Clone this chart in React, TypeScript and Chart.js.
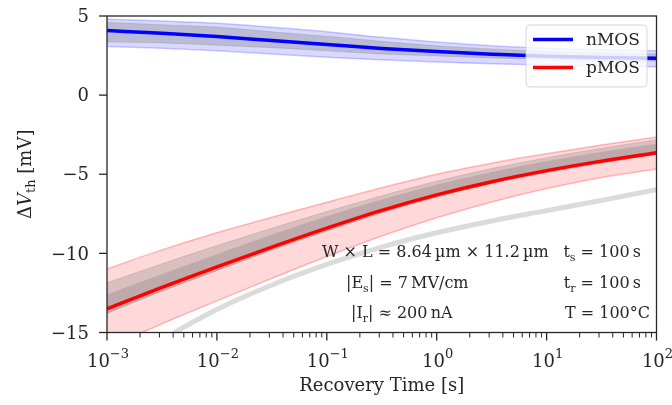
import React, { useEffect, useRef } from 'react';
import { Chart, registerables } from 'chart.js';

Chart.register(...registerables);

// Recovery time sample points [s]
const recoveryTime = [0.001, 0.00316, 0.01, 0.0316, 0.1, 0.316, 1, 3.16, 10, 31.6, 100];

// nMOS (mV)
const nMean = [4.08, 3.91, 3.7, 3.45, 3.2, 2.95, 2.75, 2.59, 2.45, 2.37, 2.33];
const nUpper = [4.79, 4.69, 4.54, 4.29, 4.01, 3.65, 3.35, 3.12, 2.96, 2.86, 2.81];
const nLower = [3.07, 2.96, 2.81, 2.6, 2.4, 2.23, 2.1, 1.98, 1.9, 1.84, 1.8];
const nTraceHigh = [4.6, 4.45, 4.3, 4.0, 3.72, 3.4, 3.12, 2.92, 2.76, 2.66, 2.6];
const nTraceLow = [3.35, 3.3, 3.15, 3.0, 2.8, 2.6, 2.48, 2.35, 2.26, 2.2, 2.15];

// pMOS (mV)
const pMean = [-13.5, -12.15, -10.85, -9.6, -8.4, -7.28, -6.3, -5.47, -4.77, -4.17, -3.64];
const pUpper = [-10.98, -9.78, -8.7, -7.72, -6.77, -5.85, -5.0, -4.3, -3.7, -3.15, -2.65];
const pLower = [-16.0, -14.45, -13.0, -11.58, -10.2, -8.9, -7.75, -6.75, -5.9, -5.2, -4.67];
const pTraceHigh = [-11.86, -10.66, -9.51, -8.41, -7.36, -6.36, -5.44, -4.64, -3.96, -3.36, -2.82];
const pTraceMid = [-12.6, -11.3, -10.05, -8.8, -7.65, -6.6, -5.65, -4.85, -4.17, -3.58, -3.08];
const pTraceLow = [-13.8, -12.4, -11.1, -9.8, -8.6, -7.45, -6.45, -5.6, -4.9, -4.3, -3.75];
const pOutlier = [-18, -15.5, -13.55, -12.0, -10.7, -9.6, -8.7, -7.95, -7.3, -6.65, -5.97];

// Axis ticks
const xTickExps = [-3, -2, -1, 0, 1, 2];
const xMinorMult = [2, 3, 4, 5, 6, 7, 8, 9];
const yTicks = [-15, -10, -5, 0, 5];

const FONT = "'DejaVu Serif', serif";
const FS = 18;
const LFS = 17;

type Part = [string, number?]; // 0 normal, 1 sub, 2 sup, 3 italic

function partFont(kind: number | undefined, size: number) {
  if (kind === 1 || kind === 2) return `${Math.round(size * 0.7)}px ${FONT}`;
  if (kind === 3) return `italic ${size}px ${FONT}`;
  return `${size}px ${FONT}`;
}

function drawRich(ctx: CanvasRenderingContext2D, parts: Part[], x: number, y: number, size: number, align: 'left' | 'center' | 'right' = 'left') {
  ctx.textBaseline = 'alphabetic';
  ctx.textAlign = 'left';
  let total = 0;
  for (const [t, k] of parts) {
    ctx.font = partFont(k, size);
    total += ctx.measureText(t).width;
  }
  let cx = align === 'left' ? x : align === 'center' ? x - total / 2 : x - total;
  for (const [t, k] of parts) {
    ctx.font = partFont(k, size);
    let dy = 0;
    if (k === 1) dy = size * 0.22;
    if (k === 2) dy = -size * 0.45;
    ctx.fillText(t, cx, y + dy);
    cx += ctx.measureText(t).width;
  }
}

const decoPlugin = {
  id: 'deco',
  afterDraw(chart: any) {
    const ctx: CanvasRenderingContext2D = chart.ctx;
    const { left, right, top, bottom } = chart.chartArea;
    const xs = chart.scales.x;
    const ys = chart.scales.y;
    ctx.save();
    ctx.fillStyle = '#262626';
    ctx.strokeStyle = '#262626';
    ctx.lineWidth = 1.3;
    ctx.strokeRect(left, top, right - left, bottom - top);

    // y ticks + labels
    for (const v of yTicks) {
      const py = ys.getPixelForValue(v);
      ctx.lineWidth = 1.3;
      ctx.beginPath();
      ctx.moveTo(left, py);
      ctx.lineTo(left - 8, py);
      ctx.stroke();
      ctx.font = `${FS}px ${FONT}`;
      ctx.textAlign = 'right';
      ctx.textBaseline = 'middle';
      ctx.fillText(v < 0 ? '\u2212' + Math.abs(v) : String(v), left - 18, py + 1.5);
    }

    // x ticks + labels
    for (const e of xTickExps) {
      const px = xs.getPixelForValue(Math.pow(10, e));
      ctx.lineWidth = 1.3;
      ctx.beginPath();
      ctx.moveTo(px, bottom);
      ctx.lineTo(px, bottom + 8);
      ctx.stroke();
      drawRich(ctx, [['10', 0], [e < 0 ? '\u2212' + Math.abs(e) : String(e), 2]], px + 1, bottom + 34, FS, 'center');
      if (e < 2) {
        for (const m of xMinorMult) {
          const mx = xs.getPixelForValue(m * Math.pow(10, e));
          ctx.lineWidth = 1;
          ctx.beginPath();
          ctx.moveTo(mx, bottom);
          ctx.lineTo(mx, bottom + 5);
          ctx.stroke();
        }
      }
    }

    // axis titles
    drawRich(ctx, [['Recovery Time [s]', 0]], (left + right) / 2, 391, FS, 'center');
    ctx.save();
    ctx.translate(31, (top + bottom) / 2);
    ctx.rotate(-Math.PI / 2);
    drawRich(ctx, [['\u0394', 0], ['V', 3], ['th', 1], [' [mV]', 0]], 0, 0, FS, 'center');
    ctx.restore();

    // annotation
    const AS = 16;
    drawRich(ctx, [['W \u00d7 L = 8.64\u2009\u00b5m \u00d7 11.2\u2009\u00b5m', 0]], 322, 257, AS);
    drawRich(ctx, [['|E', 0], ['s', 1], ['| = 7\u2009MV/cm', 0]], 346, 288, AS);
    drawRich(ctx, [['|I', 0], ['r', 1], ['| \u2248 200\u2009nA', 0]], 351, 318, AS);
    drawRich(ctx, [['t', 0], ['s', 1], [' = 100\u2009s', 0]], 641, 257, AS, 'right');
    drawRich(ctx, [['t', 0], ['r', 1], [' = 100\u2009s', 0]], 641, 288, AS, 'right');
    drawRich(ctx, [['T = 100\u00b0C', 0]], 650, 318, AS, 'right');

    // legend
    const lx = 526, ly = 25, lw = 121, lh = 62;
    ctx.beginPath();
    ctx.roundRect(lx, ly, lw, lh, 4);
    ctx.fillStyle = 'rgba(255,255,255,0.8)';
    ctx.fill();
    ctx.strokeStyle = 'rgba(204,204,204,0.8)';
    ctx.lineWidth = 1;
    ctx.stroke();
    const entries = [chart.data.datasets[0], chart.data.datasets[1]];
    entries.forEach((ds: any, i: number) => {
      const yy = 39.5 + i * 28;
      ctx.strokeStyle = ds.borderColor;
      ctx.lineWidth = 3.5;
      ctx.beginPath();
      ctx.moveTo(533, yy);
      ctx.lineTo(573, yy);
      ctx.stroke();
      ctx.fillStyle = '#262626';
      ctx.font = `${LFS}px ${FONT}`;
      ctx.textAlign = 'left';
      ctx.textBaseline = 'middle';
      ctx.fillText(ds.label, 586, yy + 1);
    });
    ctx.restore();
  },
};

const pts = (ys: number[]) => recoveryTime.map((x, i) => ({ x, y: ys[i] }));

const common = { pointRadius: 0, cubicInterpolationMode: 'monotone', clip: 0 };
const traceEdge = 'rgba(140,140,140,0.3)';

export default function App() {
  const ref = useRef<HTMLCanvasElement>(null);
  useEffect(() => {
    if (!ref.current) return;
    const chart = new Chart(ref.current, {
      type: 'line',
      data: {
        datasets: [
          { ...common, label: 'nMOS', data: pts(nMean), borderColor: '#0000ff', borderWidth: 3.5, fill: false, order: 0 },
          { ...common, label: 'pMOS', data: pts(pMean), borderColor: '#ff0000', borderWidth: 3.5, fill: false, order: 1 },
          { ...common, label: 'nMOS traces', data: pts(nTraceHigh), borderColor: traceEdge, borderWidth: 1, backgroundColor: 'rgba(128,128,128,0.35)', fill: '+1', order: 3 },
          { ...common, label: 'nMOS traces low', data: pts(nTraceLow), borderColor: traceEdge, borderWidth: 1, fill: false, order: 4 },
          { ...common, label: 'pMOS traces', data: pts(pTraceHigh), borderColor: traceEdge, borderWidth: 1, backgroundColor: 'rgba(128,128,128,0.3)', fill: '+1', order: 3 },
          { ...common, label: 'pMOS traces core', data: pts(pTraceMid), borderColor: 'rgba(0,0,0,0)', borderWidth: 0, backgroundColor: 'rgba(110,110,110,0.45)', fill: '+1', order: 4 },
          { ...common, label: 'pMOS traces low', data: pts(pTraceLow), borderColor: traceEdge, borderWidth: 1, fill: false, order: 5 },
          { ...common, label: 'pMOS outlier', data: pts(pOutlier), borderColor: 'rgba(170,170,170,0.42)', borderWidth: 5, fill: false, order: 6 },
          { ...common, label: 'nMOS band', data: pts(nUpper), borderColor: 'rgba(0,0,255,0.2)', borderWidth: 1.5, backgroundColor: 'rgba(0,0,255,0.15)', fill: '+1', order: 7 },
          { ...common, label: 'nMOS band low', data: pts(nLower), borderColor: 'rgba(0,0,255,0.2)', borderWidth: 1.5, fill: false, order: 8 },
          { ...common, label: 'pMOS band', data: pts(pUpper), borderColor: 'rgba(255,0,0,0.25)', borderWidth: 1.5, backgroundColor: 'rgba(255,0,0,0.15)', fill: '+1', order: 7 },
          { ...common, label: 'pMOS band low', data: pts(pLower), borderColor: 'rgba(255,0,0,0.25)', borderWidth: 1.5, fill: false, order: 8 },
        ] as any,
      },
      options: {
        animation: false,
        responsive: false,
        maintainAspectRatio: false,
        layout: { padding: { left: 107, top: 16, right: 15.5, bottom: 72.5 } },
        plugins: { legend: { display: false }, tooltip: { enabled: false } },
        scales: {
          x: { type: 'logarithmic', min: 0.001, max: 100, display: false },
          y: { type: 'linear', min: -15, max: 5, display: false },
        },
      },
      plugins: [decoPlugin],
    } as any);
    return () => chart.destroy();
  }, []);
  return (
    <div style={{ position: 'absolute', left: 0, top: 0, width: 672, height: 405, background: '#fff' }}>
      <canvas ref={ref} width={672} height={405} style={{ display: 'block', width: 672, height: 405 }} />
    </div>
  );
}
